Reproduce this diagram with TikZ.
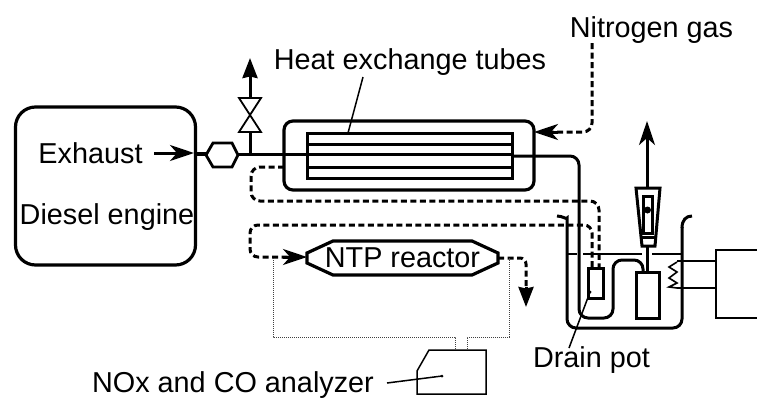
\documentclass[tikz,border=0pt]{standalone}
\usepackage{fontspec}
\setmainfont{Liberation Sans}
\usetikzlibrary{arrows.meta}
\tikzset{
  x=1pt,y=-1pt,
  heavy/.style={draw=black,line width=3.2pt,line join=miter},
  pipe/.style={draw=black,line width=3pt},
  thinl/.style={draw=black,line width=1.5pt},
  dashl/.style={draw=black,line width=3pt,dash pattern=on 6pt off 3.5pt},
  dotl/.style={draw=black!75,line width=1pt,dash pattern=on 1pt off 1pt},
  lbl/.style={inner sep=0pt,text=black,anchor=base,font=\fontsize{28.8}{28.8}\selectfont},
  tipa/.style={-{Stealth[length=24pt,width=16pt,inset=7pt]}},
  tipb/.style={-{Stealth[length=20pt,width=15pt,inset=1.5pt]}},
}
\begin{document}
\begin{tikzpicture}
\useasboundingbox (0,0) rectangle (757,397);
% engine
\node[heavy,rounded corners=20pt,minimum width=180pt,minimum height=158pt,inner sep=0pt] (engine) at (105.5,186) {};
\node[lbl] (exh) at (90.5,163) {Exhaust};
\node[lbl] (die) at (107,224) {Diesel engine};
\coordinate (exhA) at (154,153);
\coordinate (exhB) at (194,153);
\draw[pipe,tipa] (exhA) -- (exhB);
% hexagon
\draw[heavy,line width=2.8pt] (206,155)--(213,143)--(232,143)--(238,155)--(232,167)--(213,167)--cycle;
\draw[heavy] (196,154)--(206,154);
\draw[pipe] (238,154)--(307,154);
% valve
\draw[pipe] (250,154)--(250,132);
\draw[thinl,line width=1.8pt,fill=white] (239,98)--(261,98)--(239,132)--(261,132)--cycle;
\draw[pipe,tipb] (250,98)--(250,58);
% heat exchanger
\node[heavy,rounded corners=9pt,minimum width=250pt,minimum height=69pt,inner sep=0pt] (hx) at (409,155.5) {};
\draw[heavy,line width=3pt] (512,133) rectangle (307,178);
\foreach \yy in {144,167}{\draw[pipe] (307,\yy)--(512,\yy);}
\draw[pipe] (307,154)--(512,154);
\node[lbl] (hxl) at (410,69) {Heat exchange tubes};
\draw[thinl] (363,77)--(348,133);
% pipe onward
\draw[pipe,rounded corners=9pt] (512,156)--(579,156)--(579,318)--(613,318)--(613,260)--(643,260)--(643,272);
% nitrogen
\node[lbl] (n2) at (651.5,37) {Nitrogen gas};
\draw[dashl,rounded corners=9pt] (592,43)--(592,132)--(550,132);
\draw[pipe,tipa] (558,132)--(534,132);
% dashed return
\draw[dashl,rounded corners=9pt] (284,167)--(251,167)--(251,201)--(599,201)--(599,267);
\draw[dashl,rounded corners=8pt] (592,267)--(592,225)--(250,225)--(250,257)--(292,257);
\draw[pipe,tipa] (283,257)--(307,257);
% NTP
\draw[heavy] (307,253)--(333,241)--(472,241)--(498,253)--(498,263)--(472,275)--(333,275)--(307,263)--cycle;
\node[lbl] (ntp) at (402.5,267) {NTP reactor};
\draw[dashl,rounded corners=6pt] (498,258)--(526,258)--(526,290);
\draw[pipe,tipb] (526,287)--(526,307);
% dotted
\draw[dotl] (273,258)--(273,337)--(455,337)--(455,350);
\draw[dotl] (509,258)--(509,337)--(467,337)--(467,350);
% analyzer
\draw[thinl] (429,350)--(486,350)--(486,394)--(417,394)--(417,371)--cycle;
\node[lbl] (nox) at (233,392) {NOx and CO analyzer};
\draw[thinl] (387,383)--(442,376);
\fill (442,376) circle (1.5pt);
% beaker
\draw[pipe,rounded corners=9pt] (557,216) .. controls (563,216) and (567,220) .. (567,227) -- (567,328) -- (682,328) -- (682,227);
\draw[pipe] (682,228) .. controls (682,220) and (686,216) .. (692,216);
\draw[thinl] (568,254)--(577,254);
\draw[thinl] (583,254)--(642,254);
\draw[thinl] (652,254)--(682,254);
% pot
\draw[heavy,fill=white,line width=3pt] (588,268) rectangle (603,298);
\draw[thinl] (590,292)--(569,348);
\fill (590,292) circle (1.5pt);
\node[lbl] (pot) at (591.5,367) {Drain pot};
% flowmeter
\draw[heavy,line width=3pt] (636,272) rectangle (659,318);
\draw[pipe] (647,272)--(647,247);
\draw[pipe] (636,188)--(660,188)--(655,246)--(642,246)--cycle;
\draw[pipe] (640,237)--(656,237);
\draw[pipe] (643,196) rectangle (652,233);
\fill (647.5,210) circle (3.5pt);
\draw[pipe,tipa] (647,188)--(647,121);
% heater
\draw[thinl,line width=1.6pt] (677,262)--(669,267)--(677,272)--(669,278)--(677,283)--(669,287)--(677,288);
\draw[thinl] (677,261)--(716,261);
\draw[thinl] (677,288)--(716,288);
\draw[thinl] (757,250)--(716,250)--(716,318)--(757,318);
\end{tikzpicture}
\end{document}
